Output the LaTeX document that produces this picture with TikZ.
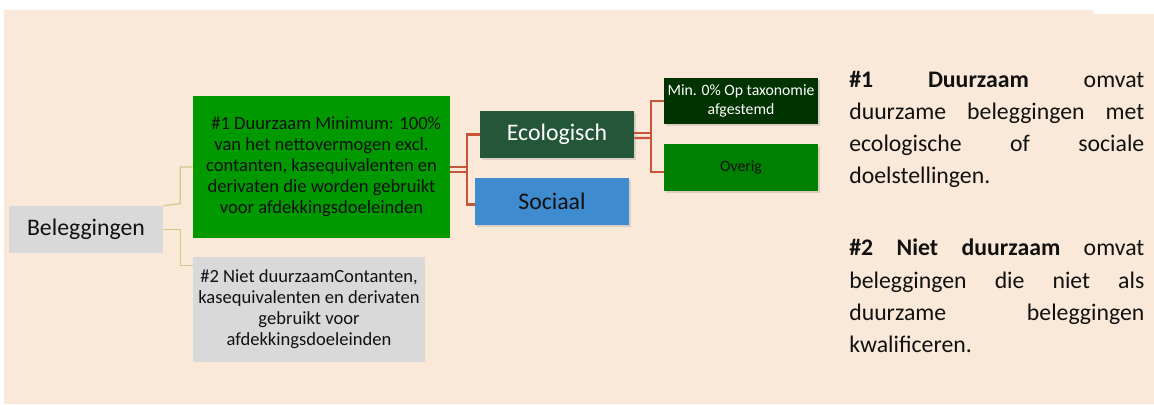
\documentclass[tikz,border=0pt]{standalone}
\usepackage{fontspec}
\setmainfont{Carlito}
\usepackage{tikz}
\usetikzlibrary{calc,shadows}
\definecolor{esgbg}{HTML}{FAE8D8}
\definecolor{esggrey}{HTML}{D9D9D9}
\definecolor{esgink}{HTML}{111111}
\definecolor{esggreen}{HTML}{009900}
\definecolor{esgeco}{HTML}{245639}
\definecolor{esgsoc}{HTML}{3F8BCF}
\definecolor{esgtax}{HTML}{003300}
\definecolor{esgother}{HTML}{008000}
\definecolor{esgtan}{HTML}{D5C78C}
\definecolor{esgred}{HTML}{C8553A}
\newcommand{\esgsize}[2]{\fontsize{#1}{#2}\selectfont}

\begin{document}
\begin{tikzpicture}[x=0.025cm, y=-0.025cm,
    every node/.style={text=esgink, inner sep=1pt},
    root/.style  ={rectangle, fill=esggrey, minimum width=3.85cm, minimum height=1.175cm,
                   align=center, font=\esgsize{16.9}{20}},
    pillar/.style={rectangle, minimum height=1.175cm, align=center,
                   font=\esgsize{13.2}{15}},
    sub/.style   ={rectangle, minimum width=3.85cm, minimum height=1.175cm, align=center,
                   font=\esgsize{16.9}{20},
                   drop shadow={shadow xshift=1.5pt, shadow yshift=-1.5pt, opacity=0.25}},
    leaf/.style  ={rectangle, minimum width=3.85cm, minimum height=1.15cm, align=center,
                   font=\esgsize{11.2}{13.5},
                   drop shadow={shadow xshift=1.5pt, shadow yshift=-1.5pt, opacity=0.25}},
    note/.style  ={anchor=north west, inner sep=0pt, text width=7.375cm, align=justify,
                   font=\esgsize{16.9}{22.8}},
    tanline/.style={draw=esgtan, line width=0.8pt},
    redline/.style={draw=esgred, line width=1.5pt},
  ]

  \useasboundingbox (0,0) rectangle (1154,405);
  \fill[esgbg] (4,10) -- (1093,10) -- (1093,14) -- (1154,14) -- (1154,404) -- (4,404) -- cycle;

  \node[root] (bel) at (86,229.5) {Beleggingen};

  \node[pillar, fill=esggreen, minimum width=6.425cm, minimum height=3.55cm] (duur) at (321.5,167)
    {\hspace*{0.5em}\#1 Duurzaam Minimum: 100\%\\van het nettovermogen excl.\\contanten, kasequivalenten en\\derivaten die worden gebruikt\\voor afdekkingsdoeleinden};
  \node[pillar, fill=esggrey, minimum width=5.8cm, minimum height=2.625cm] (niet) at (309,309.5)
    {\#2 Niet duurzaamContanten,\\kasequivalenten en derivaten\\gebruikt voor\\afdekkingsdoeleinden};

  \node[sub, fill=esgeco, text=white] (eco) at (557,134.5) {Ecologisch};
  \node[sub, fill=esgsoc] (soc) at (552,201.5) {Sociaal};

  \node[leaf, fill=esgtax, text=white] (tax) at (741,101) {Min. 0\% Op taxonomie\\afgestemd};
  \node[leaf, fill=esgother] (overig) at (741,167.5) {Overig};

  \draw[tanline] (bel.north east) -- ++(17,-2) |- (duur.west);
  \draw[tanline] (bel.east) -- ++(17,0) |- ($(niet.north west)+(0,9)$);

  \coordinate (dk) at ($(duur.east)+(17,0)$);
  \draw[redline] (duur.east) -- (dk);
  \draw[redline] ($(duur.east)+(0,5)$) -- ($(dk)+(0,5)$);
  \draw[redline] (eco.west) -| (dk) |- ($(soc.west)+(0,3)$);

  \coordinate (ek) at ($(eco.east)+(17,-1.5)$);
  \draw[redline] ($(eco.east)+(0,-1.5)$) -- (ek);
  \draw[redline] ($(eco.east)+(0,3.5)$) -- ($(ek)+(0,5)$);
  \draw[redline] (tax.west) -| (ek) |- ($(overig.west)+(0,4.5)$);

  \node[note] (desc1) at (849,71)
    {\textbf{\#1 Duurzaam} omvat\linebreak duurzame beleggingen met\linebreak ecologische of sociale\linebreak doelstellingen.};
  \node[note] (desc2) at (849,239)
    {\textbf{\#2 Niet duurzaam} omvat\linebreak beleggingen die niet als\linebreak duurzame beleggingen\linebreak kwalificeren.};

\end{tikzpicture}
\end{document}
